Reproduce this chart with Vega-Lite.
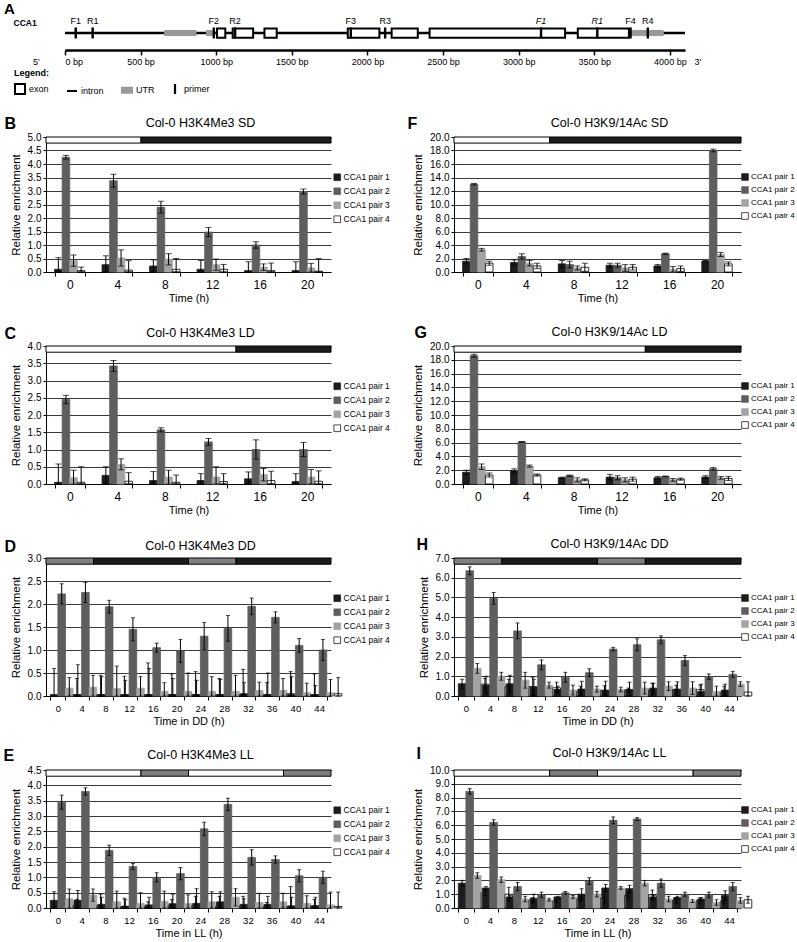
{
"$schema":"https://vega.github.io/schema/vega-lite/v6.json",
"background":"white",
"padding":{"left":3,"top":2,"right":0,"bottom":0},
"config":{
 "font":"Liberation Sans",
 "view":{"stroke":null},
 "axis":{"labelColor":"#000","titleColor":"#000","domainColor":"#000","tickColor":"#000","titleFontWeight":"normal","gridColor":"#3a3a3a"},
 "axisY":{"labelFontSize":10,"titleFontSize":11.5,"tickSize":3,"labelPadding":2,"titlePadding":6},
 "legend":{"labelColor":"#000000","labelFontSize":8.5},
 "title":{"fontSize":12.5,"fontWeight":"normal","color":"#000","baseline":"alphabetic","offset":0,"dy":18.5,"dx":12}
},
"resolve":{"scale":{"fill":"independent","stroke":"independent","shape":"independent"}},
"datasets":{
 "gene":[
  {"feature":"intron","start":0,"end":4100},
  {"feature":"UTR","start":659,"end":866},
  {"feature":"UTR","start":935,"end":990},
  {"feature":"exon","start":1005,"end":1060},
  {"feature":"exon","start":1109,"end":1244},
  {"feature":"exon","start":1319,"end":1400},
  {"feature":"exon","start":1870,"end":2079},
  {"feature":"exon","start":2160,"end":2333},
  {"feature":"exon","start":2411,"end":3307},
  {"feature":"exon","start":3391,"end":3729},
  {"feature":"UTR","start":3736,"end":3956}
 ],
 "primers":[
  {"feature":"primer","label":"F1","bp":71,"set":"ChIP"},
  {"feature":"primer","label":"R1","bp":183,"set":"ChIP"},
  {"feature":"primer","label":"F2","bp":984,"set":"ChIP"},
  {"feature":"primer","label":"R2","bp":1125,"set":"ChIP"},
  {"feature":"primer","label":"F3","bp":1890,"set":"ChIP"},
  {"feature":"primer","label":"R3","bp":2117,"set":"ChIP"},
  {"feature":"primer","label":"F1","bp":3148,"set":"RT"},
  {"feature":"primer","label":"R1","bp":3520,"set":"RT"},
  {"feature":"primer","label":"F4","bp":3740,"set":"ChIP"},
  {"feature":"primer","label":"R4","bp":3854,"set":"ChIP"}
 ],
 "ends":[{"label":"5'","bp":-190},{"label":"3'","bp":4185}],
 "bandSD":[{"s":-2,"e":6,"c":"light"},{"s":6,"e":22,"c":"dark"}],
 "bandLD":[{"s":-2,"e":14,"c":"light"},{"s":14,"e":22,"c":"dark"}],
 "bandDD":[{"s":-2,"e":6,"c":"subjective day"},{"s":6,"e":22,"c":"subjective night"},{"s":22,"e":30,"c":"subjective day"},{"s":30,"e":46,"c":"subjective night"}],
 "bandLL":[{"s":-2,"e":14,"c":"subjective day"},{"s":14,"e":22,"c":"subjective night"},{"s":22,"e":38,"c":"subjective day"},{"s":38,"e":46,"c":"subjective night"}],
 "B":[
  {"t":0,"p":"CCA1 pair 1","v":0.10,"e":0.43},{"t":0,"p":"CCA1 pair 2","v":4.25,"e":0.07},{"t":0,"p":"CCA1 pair 3","v":0.42,"e":0.21},{"t":0,"p":"CCA1 pair 4","v":0.05,"e":0.13},
  {"t":4,"p":"CCA1 pair 1","v":0.27,"e":0.33},{"t":4,"p":"CCA1 pair 2","v":3.38,"e":0.24},{"t":4,"p":"CCA1 pair 3","v":0.52,"e":0.30},{"t":4,"p":"CCA1 pair 4","v":0.07,"e":0.35},
  {"t":8,"p":"CCA1 pair 1","v":0.22,"e":0.23},{"t":8,"p":"CCA1 pair 2","v":2.40,"e":0.22},{"t":8,"p":"CCA1 pair 3","v":0.47,"e":0.21},{"t":8,"p":"CCA1 pair 4","v":0.10,"e":0.40},
  {"t":12,"p":"CCA1 pair 1","v":0.10,"e":0.33},{"t":12,"p":"CCA1 pair 2","v":1.48,"e":0.17},{"t":12,"p":"CCA1 pair 3","v":0.27,"e":0.21},{"t":12,"p":"CCA1 pair 4","v":0.10,"e":0.18},
  {"t":16,"p":"CCA1 pair 1","v":0.05,"e":0.33},{"t":16,"p":"CCA1 pair 2","v":1.00,"e":0.12},{"t":16,"p":"CCA1 pair 3","v":0.18,"e":0.12},{"t":16,"p":"CCA1 pair 4","v":0.05,"e":0.28},
  {"t":20,"p":"CCA1 pair 1","v":0.05,"e":0.33},{"t":20,"p":"CCA1 pair 2","v":2.98,"e":0.09},{"t":20,"p":"CCA1 pair 3","v":0.15,"e":0.17},{"t":20,"p":"CCA1 pair 4","v":0.03,"e":0.47}
 ],
 "F":[
  {"t":0,"p":"CCA1 pair 1","v":1.6,"e":0.4},{"t":0,"p":"CCA1 pair 2","v":13.0,"e":0.1},{"t":0,"p":"CCA1 pair 3","v":3.3,"e":0.2},{"t":0,"p":"CCA1 pair 4","v":1.3,"e":0.3},
  {"t":4,"p":"CCA1 pair 1","v":1.4,"e":0.4},{"t":4,"p":"CCA1 pair 2","v":2.3,"e":0.4},{"t":4,"p":"CCA1 pair 3","v":1.3,"e":0.4},{"t":4,"p":"CCA1 pair 4","v":0.9,"e":0.4},
  {"t":8,"p":"CCA1 pair 1","v":1.2,"e":0.5},{"t":8,"p":"CCA1 pair 2","v":1.1,"e":0.5},{"t":8,"p":"CCA1 pair 3","v":0.6,"e":0.3},{"t":8,"p":"CCA1 pair 4","v":0.7,"e":0.6},
  {"t":12,"p":"CCA1 pair 1","v":1.0,"e":0.3},{"t":12,"p":"CCA1 pair 2","v":1.0,"e":0.3},{"t":12,"p":"CCA1 pair 3","v":0.6,"e":0.5},{"t":12,"p":"CCA1 pair 4","v":0.7,"e":0.4},
  {"t":16,"p":"CCA1 pair 1","v":0.9,"e":0.2},{"t":16,"p":"CCA1 pair 2","v":2.7,"e":0.1},{"t":16,"p":"CCA1 pair 3","v":0.4,"e":0.4},{"t":16,"p":"CCA1 pair 4","v":0.5,"e":0.4},
  {"t":20,"p":"CCA1 pair 1","v":1.6,"e":0.1},{"t":20,"p":"CCA1 pair 2","v":18.0,"e":0.2},{"t":20,"p":"CCA1 pair 3","v":2.6,"e":0.3},{"t":20,"p":"CCA1 pair 4","v":1.2,"e":0.3}
 ],
 "C":[
  {"t":0,"p":"CCA1 pair 1","v":0.05,"e":0.53},{"t":0,"p":"CCA1 pair 2","v":2.45,"e":0.12},{"t":0,"p":"CCA1 pair 3","v":0.18,"e":0.22},{"t":0,"p":"CCA1 pair 4","v":0.05,"e":0.45},
  {"t":4,"p":"CCA1 pair 1","v":0.25,"e":0.25},{"t":4,"p":"CCA1 pair 2","v":3.42,"e":0.16},{"t":4,"p":"CCA1 pair 3","v":0.57,"e":0.16},{"t":4,"p":"CCA1 pair 4","v":0.08,"e":0.25},
  {"t":8,"p":"CCA1 pair 1","v":0.10,"e":0.26},{"t":8,"p":"CCA1 pair 2","v":1.57,"e":0.06},{"t":8,"p":"CCA1 pair 3","v":0.20,"e":0.20},{"t":8,"p":"CCA1 pair 4","v":0.05,"e":0.21},
  {"t":12,"p":"CCA1 pair 1","v":0.10,"e":0.20},{"t":12,"p":"CCA1 pair 2","v":1.22,"e":0.10},{"t":12,"p":"CCA1 pair 3","v":0.20,"e":0.30},{"t":12,"p":"CCA1 pair 4","v":0.07,"e":0.23},
  {"t":16,"p":"CCA1 pair 1","v":0.15,"e":0.20},{"t":16,"p":"CCA1 pair 2","v":1.00,"e":0.28},{"t":16,"p":"CCA1 pair 3","v":0.27,"e":0.18},{"t":16,"p":"CCA1 pair 4","v":0.10,"e":0.27},
  {"t":20,"p":"CCA1 pair 1","v":0.07,"e":0.23},{"t":20,"p":"CCA1 pair 2","v":1.00,"e":0.20},{"t":20,"p":"CCA1 pair 3","v":0.20,"e":0.22},{"t":20,"p":"CCA1 pair 4","v":0.08,"e":0.30}
 ],
 "G":[
  {"t":0,"p":"CCA1 pair 1","v":1.7,"e":0.3},{"t":0,"p":"CCA1 pair 2","v":18.6,"e":0.2},{"t":0,"p":"CCA1 pair 3","v":2.5,"e":0.4},{"t":0,"p":"CCA1 pair 4","v":1.3,"e":0.3},
  {"t":4,"p":"CCA1 pair 1","v":1.9,"e":0.3},{"t":4,"p":"CCA1 pair 2","v":6.1,"e":0.05},{"t":4,"p":"CCA1 pair 3","v":2.6,"e":0.15},{"t":4,"p":"CCA1 pair 4","v":1.3,"e":0.15},
  {"t":8,"p":"CCA1 pair 1","v":0.9,"e":0.1},{"t":8,"p":"CCA1 pair 2","v":1.2,"e":0.1},{"t":8,"p":"CCA1 pair 3","v":0.6,"e":0.3},{"t":8,"p":"CCA1 pair 4","v":0.6,"e":0.15},
  {"t":12,"p":"CCA1 pair 1","v":1.0,"e":0.4},{"t":12,"p":"CCA1 pair 2","v":0.9,"e":0.3},{"t":12,"p":"CCA1 pair 3","v":0.6,"e":0.3},{"t":12,"p":"CCA1 pair 4","v":0.7,"e":0.3},
  {"t":16,"p":"CCA1 pair 1","v":0.9,"e":0.2},{"t":16,"p":"CCA1 pair 2","v":1.1,"e":0.05},{"t":16,"p":"CCA1 pair 3","v":0.6,"e":0.2},{"t":16,"p":"CCA1 pair 4","v":0.7,"e":0.15},
  {"t":20,"p":"CCA1 pair 1","v":1.0,"e":0.2},{"t":20,"p":"CCA1 pair 2","v":2.2,"e":0.2},{"t":20,"p":"CCA1 pair 3","v":0.9,"e":0.2},{"t":20,"p":"CCA1 pair 4","v":0.8,"e":0.3}
 ],
 "D":[
  {"t":0,"p":"CCA1 pair 1","v":0.03,"e":0.57},{"t":0,"p":"CCA1 pair 2","v":2.22,"e":0.22},{"t":0,"p":"CCA1 pair 3","v":0.17,"e":0.23},{"t":0,"p":"CCA1 pair 4","v":0.03,"e":0.35},
  {"t":4,"p":"CCA1 pair 1","v":0.03,"e":0.65},{"t":4,"p":"CCA1 pair 2","v":2.25,"e":0.22},{"t":4,"p":"CCA1 pair 3","v":0.19,"e":0.26},{"t":4,"p":"CCA1 pair 4","v":0.03,"e":0.42},
  {"t":8,"p":"CCA1 pair 1","v":0.03,"e":0.39},{"t":8,"p":"CCA1 pair 2","v":1.94,"e":0.14},{"t":8,"p":"CCA1 pair 3","v":0.16,"e":0.49},{"t":8,"p":"CCA1 pair 4","v":0.03,"e":0.40},
  {"t":12,"p":"CCA1 pair 1","v":0.03,"e":0.31},{"t":12,"p":"CCA1 pair 2","v":1.45,"e":0.25},{"t":12,"p":"CCA1 pair 3","v":0.17,"e":0.25},{"t":12,"p":"CCA1 pair 4","v":0.03,"e":0.69},
  {"t":16,"p":"CCA1 pair 1","v":0.03,"e":0.57},{"t":16,"p":"CCA1 pair 2","v":1.05,"e":0.10},{"t":16,"p":"CCA1 pair 3","v":0.10,"e":0.19},{"t":16,"p":"CCA1 pair 4","v":0.03,"e":0.45},
  {"t":20,"p":"CCA1 pair 1","v":0.03,"e":0.35},{"t":20,"p":"CCA1 pair 2","v":0.98,"e":0.25},{"t":20,"p":"CCA1 pair 3","v":0.10,"e":0.40},{"t":20,"p":"CCA1 pair 4","v":0.03,"e":0.50},
  {"t":24,"p":"CCA1 pair 1","v":0.03,"e":0.31},{"t":24,"p":"CCA1 pair 2","v":1.30,"e":0.30},{"t":24,"p":"CCA1 pair 3","v":0.10,"e":0.32},{"t":24,"p":"CCA1 pair 4","v":0.03,"e":0.35},
  {"t":28,"p":"CCA1 pair 1","v":0.03,"e":0.33},{"t":28,"p":"CCA1 pair 2","v":1.47,"e":0.28},{"t":28,"p":"CCA1 pair 3","v":0.10,"e":0.35},{"t":28,"p":"CCA1 pair 4","v":0.03,"e":0.55},
  {"t":32,"p":"CCA1 pair 1","v":0.05,"e":0.24},{"t":32,"p":"CCA1 pair 2","v":1.95,"e":0.18},{"t":32,"p":"CCA1 pair 3","v":0.12,"e":0.18},{"t":32,"p":"CCA1 pair 4","v":0.03,"e":0.26},
  {"t":36,"p":"CCA1 pair 1","v":0.03,"e":0.47},{"t":36,"p":"CCA1 pair 2","v":1.71,"e":0.12},{"t":36,"p":"CCA1 pair 3","v":0.12,"e":0.26},{"t":36,"p":"CCA1 pair 4","v":0.05,"e":0.48},
  {"t":40,"p":"CCA1 pair 1","v":0.03,"e":0.39},{"t":40,"p":"CCA1 pair 2","v":1.10,"e":0.15},{"t":40,"p":"CCA1 pair 3","v":0.07,"e":0.21},{"t":40,"p":"CCA1 pair 4","v":0.03,"e":0.45},
  {"t":44,"p":"CCA1 pair 1","v":0.03,"e":0.20},{"t":44,"p":"CCA1 pair 2","v":1.00,"e":0.23},{"t":44,"p":"CCA1 pair 3","v":0.07,"e":0.29},{"t":44,"p":"CCA1 pair 4","v":0.05,"e":0.35}
 ],
 "H":[
  {"t":0,"p":"CCA1 pair 1","v":0.62,"e":0.23},{"t":0,"p":"CCA1 pair 2","v":6.35,"e":0.20},{"t":0,"p":"CCA1 pair 3","v":1.40,"e":0.25},{"t":0,"p":"CCA1 pair 4","v":0.60,"e":0.30},
  {"t":4,"p":"CCA1 pair 1","v":0.55,"e":0.45},{"t":4,"p":"CCA1 pair 2","v":4.95,"e":0.30},{"t":4,"p":"CCA1 pair 3","v":1.00,"e":0.20},{"t":4,"p":"CCA1 pair 4","v":0.48,"e":0.37},
  {"t":8,"p":"CCA1 pair 1","v":0.62,"e":0.43},{"t":8,"p":"CCA1 pair 2","v":3.30,"e":0.40},{"t":8,"p":"CCA1 pair 3","v":0.80,"e":0.40},{"t":8,"p":"CCA1 pair 4","v":0.48,"e":0.47},
  {"t":12,"p":"CCA1 pair 1","v":0.45,"e":0.40},{"t":12,"p":"CCA1 pair 2","v":1.58,"e":0.25},{"t":12,"p":"CCA1 pair 3","v":0.55,"e":0.15},{"t":12,"p":"CCA1 pair 4","v":0.42,"e":0.28},
  {"t":16,"p":"CCA1 pair 1","v":0.33,"e":0.17},{"t":16,"p":"CCA1 pair 2","v":0.95,"e":0.25},{"t":16,"p":"CCA1 pair 3","v":0.30,"e":0.25},{"t":16,"p":"CCA1 pair 4","v":0.23,"e":0.27},
  {"t":20,"p":"CCA1 pair 1","v":0.35,"e":0.40},{"t":20,"p":"CCA1 pair 2","v":1.18,"e":0.20},{"t":20,"p":"CCA1 pair 3","v":0.35,"e":0.15},{"t":20,"p":"CCA1 pair 4","v":0.28,"e":0.24},
  {"t":24,"p":"CCA1 pair 1","v":0.30,"e":0.45},{"t":24,"p":"CCA1 pair 2","v":2.38,"e":0.09},{"t":24,"p":"CCA1 pair 3","v":0.33,"e":0.12},{"t":24,"p":"CCA1 pair 4","v":0.30,"e":0.10},
  {"t":28,"p":"CCA1 pair 1","v":0.33,"e":0.37},{"t":28,"p":"CCA1 pair 2","v":2.60,"e":0.30},{"t":28,"p":"CCA1 pair 3","v":0.40,"e":0.30},{"t":28,"p":"CCA1 pair 4","v":0.30,"e":0.35},
  {"t":32,"p":"CCA1 pair 1","v":0.40,"e":0.25},{"t":32,"p":"CCA1 pair 2","v":2.85,"e":0.20},{"t":32,"p":"CCA1 pair 3","v":0.50,"e":0.22},{"t":32,"p":"CCA1 pair 4","v":0.33,"e":0.22},
  {"t":36,"p":"CCA1 pair 1","v":0.35,"e":0.37},{"t":36,"p":"CCA1 pair 2","v":1.80,"e":0.25},{"t":36,"p":"CCA1 pair 3","v":0.40,"e":0.32},{"t":36,"p":"CCA1 pair 4","v":0.32,"e":0.23},
  {"t":40,"p":"CCA1 pair 1","v":0.22,"e":0.38},{"t":40,"p":"CCA1 pair 2","v":0.98,"e":0.14},{"t":40,"p":"CCA1 pair 3","v":0.22,"e":0.28},{"t":40,"p":"CCA1 pair 4","v":0.20,"e":0.30},
  {"t":44,"p":"CCA1 pair 1","v":0.30,"e":0.30},{"t":44,"p":"CCA1 pair 2","v":1.10,"e":0.15},{"t":44,"p":"CCA1 pair 3","v":0.60,"e":0.12},{"t":44,"p":"CCA1 pair 4","v":0.20,"e":0.52}
 ],
 "E":[
  {"t":0,"p":"CCA1 pair 1","v":0.25,"e":0.28},{"t":0,"p":"CCA1 pair 2","v":3.45,"e":0.23},{"t":0,"p":"CCA1 pair 3","v":0.30,"e":0.32},{"t":0,"p":"CCA1 pair 4","v":0.08,"e":0.20},
  {"t":4,"p":"CCA1 pair 1","v":0.25,"e":0.32},{"t":4,"p":"CCA1 pair 2","v":3.80,"e":0.12},{"t":4,"p":"CCA1 pair 3","v":0.42,"e":0.20},{"t":4,"p":"CCA1 pair 4","v":0.08,"e":0.37},
  {"t":8,"p":"CCA1 pair 1","v":0.12,"e":0.23},{"t":8,"p":"CCA1 pair 2","v":1.88,"e":0.17},{"t":8,"p":"CCA1 pair 3","v":0.20,"e":0.35},{"t":8,"p":"CCA1 pair 4","v":0.04,"e":0.28},
  {"t":12,"p":"CCA1 pair 1","v":0.06,"e":0.21},{"t":12,"p":"CCA1 pair 2","v":1.35,"e":0.10},{"t":12,"p":"CCA1 pair 3","v":0.15,"e":0.35},{"t":12,"p":"CCA1 pair 4","v":0.04,"e":0.16},
  {"t":16,"p":"CCA1 pair 1","v":0.10,"e":0.25},{"t":16,"p":"CCA1 pair 2","v":1.00,"e":0.15},{"t":16,"p":"CCA1 pair 3","v":0.22,"e":0.33},{"t":16,"p":"CCA1 pair 4","v":0.07,"e":0.21},
  {"t":20,"p":"CCA1 pair 1","v":0.14,"e":0.31},{"t":20,"p":"CCA1 pair 2","v":1.12,"e":0.20},{"t":20,"p":"CCA1 pair 3","v":0.14,"e":0.29},{"t":20,"p":"CCA1 pair 4","v":0.08,"e":0.30},
  {"t":24,"p":"CCA1 pair 1","v":0.15,"e":0.48},{"t":24,"p":"CCA1 pair 2","v":2.58,"e":0.22},{"t":24,"p":"CCA1 pair 3","v":0.20,"e":0.33},{"t":24,"p":"CCA1 pair 4","v":0.05,"e":0.33},
  {"t":28,"p":"CCA1 pair 1","v":0.20,"e":0.33},{"t":28,"p":"CCA1 pair 2","v":3.38,"e":0.20},{"t":28,"p":"CCA1 pair 3","v":0.35,"e":0.28},{"t":28,"p":"CCA1 pair 4","v":0.07,"e":0.31},
  {"t":32,"p":"CCA1 pair 1","v":0.12,"e":0.18},{"t":32,"p":"CCA1 pair 2","v":1.65,"e":0.25},{"t":32,"p":"CCA1 pair 3","v":0.18,"e":0.30},{"t":32,"p":"CCA1 pair 4","v":0.04,"e":0.14},
  {"t":36,"p":"CCA1 pair 1","v":0.12,"e":0.26},{"t":36,"p":"CCA1 pair 2","v":1.58,"e":0.12},{"t":36,"p":"CCA1 pair 3","v":0.20,"e":0.28},{"t":36,"p":"CCA1 pair 4","v":0.05,"e":0.65},
  {"t":40,"p":"CCA1 pair 1","v":0.07,"e":0.28},{"t":40,"p":"CCA1 pair 2","v":1.05,"e":0.20},{"t":40,"p":"CCA1 pair 3","v":0.15,"e":0.25},{"t":40,"p":"CCA1 pair 4","v":0.07,"e":0.21},
  {"t":44,"p":"CCA1 pair 1","v":0.07,"e":0.28},{"t":44,"p":"CCA1 pair 2","v":1.00,"e":0.20},{"t":44,"p":"CCA1 pair 3","v":0.10,"e":0.42},{"t":44,"p":"CCA1 pair 4","v":0.05,"e":0.47}
 ],
 "I":[
  {"t":0,"p":"CCA1 pair 1","v":1.8,"e":0.2},{"t":0,"p":"CCA1 pair 2","v":8.45,"e":0.2},{"t":0,"p":"CCA1 pair 3","v":2.35,"e":0.2},{"t":0,"p":"CCA1 pair 4","v":1.1,"e":0.2},
  {"t":4,"p":"CCA1 pair 1","v":1.45,"e":0.1},{"t":4,"p":"CCA1 pair 2","v":6.2,"e":0.2},{"t":4,"p":"CCA1 pair 3","v":2.05,"e":0.2},{"t":4,"p":"CCA1 pair 4","v":1.0,"e":0.5},
  {"t":8,"p":"CCA1 pair 1","v":0.8,"e":0.1},{"t":8,"p":"CCA1 pair 2","v":1.55,"e":0.3},{"t":8,"p":"CCA1 pair 3","v":0.65,"e":0.2},{"t":8,"p":"CCA1 pair 4","v":0.55,"e":0.2},
  {"t":12,"p":"CCA1 pair 1","v":0.7,"e":0.3},{"t":12,"p":"CCA1 pair 2","v":0.95,"e":0.2},{"t":12,"p":"CCA1 pair 3","v":0.6,"e":0.1},{"t":12,"p":"CCA1 pair 4","v":0.5,"e":0.1},
  {"t":16,"p":"CCA1 pair 1","v":0.8,"e":0.05},{"t":16,"p":"CCA1 pair 2","v":1.1,"e":0.1},{"t":16,"p":"CCA1 pair 3","v":0.8,"e":0.1},{"t":16,"p":"CCA1 pair 4","v":0.65,"e":0.15},
  {"t":20,"p":"CCA1 pair 1","v":1.0,"e":0.4},{"t":20,"p":"CCA1 pair 2","v":1.95,"e":0.25},{"t":20,"p":"CCA1 pair 3","v":1.0,"e":0.2},{"t":20,"p":"CCA1 pair 4","v":0.75,"e":0.45},
  {"t":24,"p":"CCA1 pair 1","v":1.45,"e":0.25},{"t":24,"p":"CCA1 pair 2","v":6.35,"e":0.25},{"t":24,"p":"CCA1 pair 3","v":1.45,"e":0.1},{"t":24,"p":"CCA1 pair 4","v":0.9,"e":0.2},
  {"t":28,"p":"CCA1 pair 1","v":1.4,"e":0.25},{"t":28,"p":"CCA1 pair 2","v":6.45,"e":0.1},{"t":28,"p":"CCA1 pair 3","v":1.8,"e":0.2},{"t":28,"p":"CCA1 pair 4","v":0.95,"e":0.35},
  {"t":32,"p":"CCA1 pair 1","v":0.8,"e":0.15},{"t":32,"p":"CCA1 pair 2","v":1.8,"e":0.3},{"t":32,"p":"CCA1 pair 3","v":0.65,"e":0.2},{"t":32,"p":"CCA1 pair 4","v":0.55,"e":0.2},
  {"t":36,"p":"CCA1 pair 1","v":0.75,"e":0.1},{"t":36,"p":"CCA1 pair 2","v":1.0,"e":0.15},{"t":36,"p":"CCA1 pair 3","v":0.5,"e":0.1},{"t":36,"p":"CCA1 pair 4","v":0.55,"e":0.2},
  {"t":40,"p":"CCA1 pair 1","v":0.65,"e":0.1},{"t":40,"p":"CCA1 pair 2","v":0.95,"e":0.2},{"t":40,"p":"CCA1 pair 3","v":0.4,"e":0.2},{"t":40,"p":"CCA1 pair 4","v":0.5,"e":0.15},
  {"t":44,"p":"CCA1 pair 1","v":0.9,"e":0.35},{"t":44,"p":"CCA1 pair 2","v":1.55,"e":0.3},{"t":44,"p":"CCA1 pair 3","v":0.55,"e":0.2},{"t":44,"p":"CCA1 pair 4","v":0.6,"e":0.25}
 ]
},
"vconcat":[
 {
  "width":650,"height":30,
  "title":{"text":"A","anchor":"start","frame":"bounds","fontSize":15,"fontWeight":"bold","dx":-9,"dy":0,"offset":-15,"baseline":"bottom"},
  "layer":[
   {"data":{"name":"gene"},"transform":[{"filter":"datum.feature == 'intron'"}],
    "mark":{"type":"rule","strokeWidth":2.5},
    "encoding":{
     "x":{"field":"start","type":"quantitative","title":null,"scale":{"domain":[0,4100],"range":[19,639],"nice":false,"zero":false},
          "axis":{"orient":"bottom","title":null,"values":[0,500,1000,1500,2000,2500,3000,3500,4000],"labelExpr":"datum.value + ' bp'","domainWidth":2.5,"tickWidth":1.5,"tickSize":5,"labelFontSize":9,"labelPadding":2,"grid":false}},
     "x2":{"field":"end"},
     "y":{"datum":0.567,"type":"quantitative","title":"CCA1","scale":{"domain":[0,1],"nice":false},
          "axis":{"title":"CCA1","domain":false,"ticks":false,"labels":false,"grid":false,"titleAngle":0,"titleX":-33,"titleY":2,"titleAlign":"left","titleBaseline":"middle","titleFontSize":8.5,"titleFontWeight":"bold"}},
     "stroke":{"field":"feature","type":"nominal","scale":{"domain":["exon","intron","UTR","primer"],"range":["#000000","#000000","#999999","transparent"]}}
    }},
   {"data":{"name":"gene"},"transform":[{"filter":"datum.feature == 'UTR'"}],
    "mark":{"type":"rect","strokeWidth":1},
    "encoding":{
     "x":{"field":"start","type":"quantitative","title":null},"x2":{"field":"end"},
     "y":{"datum":0.65,"type":"quantitative","title":"CCA1"},"y2":{"datum":0.48},
     "fill":{"field":"feature","type":"nominal","scale":{"domain":["exon","intron","UTR","primer"],"range":["#ffffff","#000000","#999999","#000000"]}},
     "stroke":{"field":"feature","type":"nominal"}
    }},
   {"data":{"name":"gene"},"transform":[{"filter":"datum.feature == 'exon'"}],
    "mark":{"type":"rect","strokeWidth":2},
    "encoding":{
     "x":{"field":"start","type":"quantitative","title":null},"x2":{"field":"end"},
     "y":{"datum":0.72,"type":"quantitative","title":"CCA1"},"y2":{"datum":0.41},
     "fill":{"field":"feature","type":"nominal"},
     "stroke":{"field":"feature","type":"nominal"}
    }},
   {"data":{"name":"primers"},
    "mark":{"type":"point","filled":true,"opacity":1,"size":121},
    "encoding":{
     "x":{"field":"bp","type":"quantitative","title":null},
     "y":{"datum":0.567,"type":"quantitative","title":"CCA1"},
     "shape":{"field":"feature","type":"nominal","scale":{"domain":["exon","intron","UTR","primer"],"range":["square","stroke","M-1,-0.5H1V0.5H-1Z","M-0.22,-1H0.22V1H-0.22Z"]},
       "legend":{"title":"Legend:","orient":"none","legendX":-32,"legendY":49,"direction":"horizontal","titleFontSize":9,"titleFontWeight":"bold","titleColor":"#000","labelFontSize":9,"symbolSize":100,"symbolStrokeWidth":2,"columnPadding":14,"titlePadding":5,"labelOffset":3}},
     "fill":{"field":"feature","type":"nominal",
       "legend":{"title":"Legend:","orient":"none","legendX":-32,"legendY":49,"direction":"horizontal","titleFontSize":9,"titleFontWeight":"bold","titleColor":"#000","labelFontSize":9,"symbolSize":100,"symbolStrokeWidth":2,"columnPadding":14,"titlePadding":5,"labelOffset":3}},
     "stroke":{"field":"feature","type":"nominal",
       "legend":{"title":"Legend:","orient":"none","legendX":-32,"legendY":49,"direction":"horizontal","titleFontSize":9,"titleFontWeight":"bold","titleColor":"#000","labelFontSize":9,"symbolSize":100,"symbolStrokeWidth":2,"columnPadding":14,"titlePadding":5,"labelOffset":3}}
    }},
   {"data":{"name":"primers"},"transform":[{"filter":"datum.set == 'ChIP'"}],
    "mark":{"type":"text","fontSize":9,"color":"#000","baseline":"middle"},
    "encoding":{"x":{"field":"bp","type":"quantitative","title":null},"y":{"datum":0.96,"type":"quantitative","title":"CCA1"},"text":{"field":"label"}}},
   {"data":{"name":"primers"},"transform":[{"filter":"datum.set == 'RT'"}],
    "mark":{"type":"text","fontSize":9,"fontStyle":"italic","color":"#000","baseline":"middle"},
    "encoding":{"x":{"field":"bp","type":"quantitative","title":null},"y":{"datum":0.96,"type":"quantitative","title":"CCA1"},"text":{"field":"label"}}},
   {"data":{"name":"ends"},
    "mark":{"type":"text","fontSize":9,"color":"#000","baseline":"middle"},
    "encoding":{"x":{"field":"bp","type":"quantitative","title":null},"y":{"datum":-0.4,"type":"quantitative","title":"CCA1"},"text":{"field":"label"}}}
  ]
 },
 {
  "columns":2,"spacing":{"row":74,"column":123},"bounds":"flush","align":"each",
  "resolve":{"scale":{"fill":"independent","stroke":"independent","shape":"independent"}},
  "concat":[
    {"width":285,"height":135,"title":{"text":"Col-0 H3K4Me3 SD"},
     "resolve":{"scale":{"x":"independent","y":"independent","fill":"independent","stroke":"independent"}},
     "layer":[
      {"data":{"name":"bandSD"},"mark":{"type":"rect","stroke":"#000","strokeWidth":1},
        "encoding":{"x":{"field":"s","type":"quantitative","title":"B","scale":{"domain":[-2,22],"nice":false,"zero":false},"axis":{"orient":"top","title":"B","titleX":-42,"titleY":-9,"titleAlign":"left","titleBaseline":"alphabetic","titleFontSize":16,"titleFontWeight":"bold","labels":false,"ticks":false,"domain":false,"grid":false}},
         "x2":{"field":"e"},"y":{"datum":1,"type":"quantitative","scale":{"domain":[0,1],"nice":false},"axis":null},"y2":{"datum":0.955},
         "fill":{"field":"c","type":"nominal","scale":{"domain":["light","dark"],"range":["#ffffff","#1c1c1c"]},"legend":null}}},
      {"data":{"name":"B"},"layer":[
       {"mark":{"type":"bar","strokeWidth":0.8},
        "encoding":{
         "x":{"field":"t","type":"ordinal","title":"Time (h)","scale":{"paddingInner":0.36,"paddingOuter":0.18},"axis":{"title":"Time (h)","labelAngle":0,"tickBand":"extent","labelFontSize":12,"titleFontSize":11,"tickSize":4,"labelPadding":3,"titlePadding":2}},
         "xOffset":{"field":"p","type":"nominal","scale":{"paddingInner":0,"paddingOuter":0}},
         "y":{"field":"v","type":"quantitative","title":"Relative enrichment","scale":{"domain":[0,5],"nice":false,"clamp":true},"axis":{"title":"Relative enrichment","orient":"left","values":[0,0.5,1,1.5,2,2.5,3,3.5,4,4.5,5],"format":".1f","grid":true}},
         "fill":{"field":"p","type":"nominal","scale":{"domain":["CCA1 pair 1","CCA1 pair 2","CCA1 pair 3","CCA1 pair 4"],"range":["#1c1c1c","#5e5e5e","#a3a3a3","#ffffff"]},"legend":{"title":null,"orient":"none","legendX":287,"legendY":36,"symbolType":"square","symbolSize":45,"symbolStrokeWidth":0.7,"symbolStrokeColor":"#000","labelFontSize":8.5,"labelColor":"#000000","rowPadding":3,"labelOffset":2}},
         "stroke":{"field":"p","type":"nominal","scale":{"domain":["CCA1 pair 1","CCA1 pair 2","CCA1 pair 3","CCA1 pair 4"],"range":["#1c1c1c","#5e5e5e","#a3a3a3","#000000"]},"legend":null}}},
       {"mark":{"type":"errorbar","ticks":true,"size":6,"thickness":1,"color":"#000"},
        "encoding":{"x":{"field":"t","type":"ordinal","title":"Time (h)","scale":{"paddingInner":0.36,"paddingOuter":0.18},"axis":{"title":"Time (h)","labelAngle":0,"tickBand":"extent","labelFontSize":12,"titleFontSize":11,"tickSize":4,"labelPadding":3,"titlePadding":2}},"xOffset":{"field":"p","type":"nominal"},
         "y":{"field":"v","type":"quantitative","title":"Relative enrichment","axis":{"title":"Relative enrichment","orient":"left","values":[0,0.5,1,1.5,2,2.5,3,3.5,4,4.5,5],"format":".1f","grid":true}},"yError":{"field":"e"}}}
      ]}
     ]},
    {"width":287,"height":135,"title":{"text":"Col-0 H3K9/14Ac SD"},
     "resolve":{"scale":{"x":"independent","y":"independent","fill":"independent","stroke":"independent"}},
     "layer":[
      {"data":{"name":"bandSD"},"mark":{"type":"rect","stroke":"#000","strokeWidth":1},
        "encoding":{"x":{"field":"s","type":"quantitative","title":"F","scale":{"domain":[-2,22],"nice":false,"zero":false},"axis":{"orient":"top","title":"F","titleX":-47,"titleY":-9,"titleAlign":"left","titleBaseline":"alphabetic","titleFontSize":16,"titleFontWeight":"bold","labels":false,"ticks":false,"domain":false,"grid":false}},
         "x2":{"field":"e"},"y":{"datum":1,"type":"quantitative","scale":{"domain":[0,1],"nice":false},"axis":null},"y2":{"datum":0.955},
         "fill":{"field":"c","type":"nominal","scale":{"domain":["light","dark"],"range":["#ffffff","#1c1c1c"]},"legend":null}}},
      {"data":{"name":"F"},"layer":[
       {"mark":{"type":"bar","strokeWidth":0.8},
        "encoding":{
         "x":{"field":"t","type":"ordinal","title":"Time (h)","scale":{"paddingInner":0.36,"paddingOuter":0.18},"axis":{"title":"Time (h)","labelAngle":0,"tickBand":"extent","labelFontSize":12,"titleFontSize":11,"tickSize":4,"labelPadding":3,"titlePadding":2}},
         "xOffset":{"field":"p","type":"nominal","scale":{"paddingInner":0,"paddingOuter":0}},
         "y":{"field":"v","type":"quantitative","title":"Relative enrichment","scale":{"domain":[0,20],"nice":false,"clamp":true},"axis":{"title":"Relative enrichment","orient":"left","values":[0,2,4,6,8,10,12,14,16,18,20],"format":".1f","grid":true}},
         "fill":{"field":"p","type":"nominal","scale":{"domain":["CCA1 pair 1","CCA1 pair 2","CCA1 pair 3","CCA1 pair 4"],"range":["#1c1c1c","#5e5e5e","#a3a3a3","#ffffff"]},"legend":{"title":null,"orient":"none","legendX":287,"legendY":36,"symbolType":"square","symbolSize":45,"symbolStrokeWidth":0.7,"symbolStrokeColor":"#000","labelFontSize":8,"labelColor":"#000000","rowPadding":3,"labelOffset":2}},
         "stroke":{"field":"p","type":"nominal","scale":{"domain":["CCA1 pair 1","CCA1 pair 2","CCA1 pair 3","CCA1 pair 4"],"range":["#1c1c1c","#5e5e5e","#a3a3a3","#000000"]},"legend":null}}},
       {"mark":{"type":"errorbar","ticks":true,"size":6,"thickness":1,"color":"#000"},
        "encoding":{"x":{"field":"t","type":"ordinal","title":"Time (h)","scale":{"paddingInner":0.36,"paddingOuter":0.18},"axis":{"title":"Time (h)","labelAngle":0,"tickBand":"extent","labelFontSize":12,"titleFontSize":11,"tickSize":4,"labelPadding":3,"titlePadding":2}},"xOffset":{"field":"p","type":"nominal"},
         "y":{"field":"v","type":"quantitative","title":"Relative enrichment","axis":{"title":"Relative enrichment","orient":"left","values":[0,2,4,6,8,10,12,14,16,18,20],"format":".1f","grid":true}},"yError":{"field":"e"}}}
      ]}
     ]},
    {"width":285,"height":138,"title":{"text":"Col-0 H3K4Me3 LD"},
     "resolve":{"scale":{"x":"independent","y":"independent","fill":"independent","stroke":"independent"}},
     "layer":[
      {"data":{"name":"bandLD"},"mark":{"type":"rect","stroke":"#000","strokeWidth":1},
        "encoding":{"x":{"field":"s","type":"quantitative","title":"C","scale":{"domain":[-2,22],"nice":false,"zero":false},"axis":{"orient":"top","title":"C","titleX":-42,"titleY":-8,"titleAlign":"left","titleBaseline":"alphabetic","titleFontSize":16,"titleFontWeight":"bold","labels":false,"ticks":false,"domain":false,"grid":false}},
         "x2":{"field":"e"},"y":{"datum":1,"type":"quantitative","scale":{"domain":[0,1],"nice":false},"axis":null},"y2":{"datum":0.955},
         "fill":{"field":"c","type":"nominal","scale":{"domain":["light","dark"],"range":["#ffffff","#1c1c1c"]},"legend":null}}},
      {"data":{"name":"C"},"layer":[
       {"mark":{"type":"bar","strokeWidth":0.8},
        "encoding":{
         "x":{"field":"t","type":"ordinal","title":"Time (h)","scale":{"paddingInner":0.36,"paddingOuter":0.18},"axis":{"title":"Time (h)","labelAngle":0,"tickBand":"extent","labelFontSize":12,"titleFontSize":11,"tickSize":4,"labelPadding":3,"titlePadding":2}},
         "xOffset":{"field":"p","type":"nominal","scale":{"paddingInner":0,"paddingOuter":0}},
         "y":{"field":"v","type":"quantitative","title":"Relative enrichment","scale":{"domain":[0,4],"nice":false,"clamp":true},"axis":{"title":"Relative enrichment","orient":"left","values":[0,0.5,1,1.5,2,2.5,3,3.5,4],"format":".1f","grid":true}},
         "fill":{"field":"p","type":"nominal","scale":{"domain":["CCA1 pair 1","CCA1 pair 2","CCA1 pair 3","CCA1 pair 4"],"range":["#1c1c1c","#5e5e5e","#a3a3a3","#ffffff"]},"legend":{"title":null,"orient":"none","legendX":287,"legendY":36,"symbolType":"square","symbolSize":45,"symbolStrokeWidth":0.7,"symbolStrokeColor":"#000","labelFontSize":8.5,"labelColor":"#000000","rowPadding":3,"labelOffset":2}},
         "stroke":{"field":"p","type":"nominal","scale":{"domain":["CCA1 pair 1","CCA1 pair 2","CCA1 pair 3","CCA1 pair 4"],"range":["#1c1c1c","#5e5e5e","#a3a3a3","#000000"]},"legend":null}}},
       {"mark":{"type":"errorbar","ticks":true,"size":6,"thickness":1,"color":"#000"},
        "encoding":{"x":{"field":"t","type":"ordinal","title":"Time (h)","scale":{"paddingInner":0.36,"paddingOuter":0.18},"axis":{"title":"Time (h)","labelAngle":0,"tickBand":"extent","labelFontSize":12,"titleFontSize":11,"tickSize":4,"labelPadding":3,"titlePadding":2}},"xOffset":{"field":"p","type":"nominal"},
         "y":{"field":"v","type":"quantitative","title":"Relative enrichment","axis":{"title":"Relative enrichment","orient":"left","values":[0,0.5,1,1.5,2,2.5,3,3.5,4],"format":".1f","grid":true}},"yError":{"field":"e"}}}
      ]}
     ]},
    {"width":287,"height":138,"title":{"text":"Col-0 H3K9/14Ac LD"},
     "resolve":{"scale":{"x":"independent","y":"independent","fill":"independent","stroke":"independent"}},
     "layer":[
      {"data":{"name":"bandLD"},"mark":{"type":"rect","stroke":"#000","strokeWidth":1},
        "encoding":{"x":{"field":"s","type":"quantitative","title":"G","scale":{"domain":[-2,22],"nice":false,"zero":false},"axis":{"orient":"top","title":"G","titleX":-40,"titleY":-9,"titleAlign":"left","titleBaseline":"alphabetic","titleFontSize":16,"titleFontWeight":"bold","labels":false,"ticks":false,"domain":false,"grid":false}},
         "x2":{"field":"e"},"y":{"datum":1,"type":"quantitative","scale":{"domain":[0,1],"nice":false},"axis":null},"y2":{"datum":0.955},
         "fill":{"field":"c","type":"nominal","scale":{"domain":["light","dark"],"range":["#ffffff","#1c1c1c"]},"legend":null}}},
      {"data":{"name":"G"},"layer":[
       {"mark":{"type":"bar","strokeWidth":0.8},
        "encoding":{
         "x":{"field":"t","type":"ordinal","title":"Time (h)","scale":{"paddingInner":0.36,"paddingOuter":0.18},"axis":{"title":"Time (h)","labelAngle":0,"tickBand":"extent","labelFontSize":12,"titleFontSize":11,"tickSize":4,"labelPadding":3,"titlePadding":2}},
         "xOffset":{"field":"p","type":"nominal","scale":{"paddingInner":0,"paddingOuter":0}},
         "y":{"field":"v","type":"quantitative","title":"Relative enrichment","scale":{"domain":[0,20],"nice":false,"clamp":true},"axis":{"title":"Relative enrichment","orient":"left","values":[0,2,4,6,8,10,12,14,16,18,20],"format":".1f","grid":true}},
         "fill":{"field":"p","type":"nominal","scale":{"domain":["CCA1 pair 1","CCA1 pair 2","CCA1 pair 3","CCA1 pair 4"],"range":["#1c1c1c","#5e5e5e","#a3a3a3","#ffffff"]},"legend":{"title":null,"orient":"none","legendX":287,"legendY":36,"symbolType":"square","symbolSize":45,"symbolStrokeWidth":0.7,"symbolStrokeColor":"#000","labelFontSize":8,"labelColor":"#000000","rowPadding":3,"labelOffset":2}},
         "stroke":{"field":"p","type":"nominal","scale":{"domain":["CCA1 pair 1","CCA1 pair 2","CCA1 pair 3","CCA1 pair 4"],"range":["#1c1c1c","#5e5e5e","#a3a3a3","#000000"]},"legend":null}}},
       {"mark":{"type":"errorbar","ticks":true,"size":6,"thickness":1,"color":"#000"},
        "encoding":{"x":{"field":"t","type":"ordinal","title":"Time (h)","scale":{"paddingInner":0.36,"paddingOuter":0.18},"axis":{"title":"Time (h)","labelAngle":0,"tickBand":"extent","labelFontSize":12,"titleFontSize":11,"tickSize":4,"labelPadding":3,"titlePadding":2}},"xOffset":{"field":"p","type":"nominal"},
         "y":{"field":"v","type":"quantitative","title":"Relative enrichment","axis":{"title":"Relative enrichment","orient":"left","values":[0,2,4,6,8,10,12,14,16,18,20],"format":".1f","grid":true}},"yError":{"field":"e"}}}
      ]}
     ]},
    {"width":285,"height":138,"title":{"text":"Col-0 H3K4Me3 DD"},
     "resolve":{"scale":{"x":"independent","y":"independent","fill":"independent","stroke":"independent"}},
     "layer":[
      {"data":{"name":"bandDD"},"mark":{"type":"rect","stroke":"#000","strokeWidth":1},
        "encoding":{"x":{"field":"s","type":"quantitative","title":"D","scale":{"domain":[-2,46],"nice":false,"zero":false},"axis":{"orient":"top","title":"D","titleX":-42,"titleY":-7,"titleAlign":"left","titleBaseline":"alphabetic","titleFontSize":16,"titleFontWeight":"bold","labels":false,"ticks":false,"domain":false,"grid":false}},
         "x2":{"field":"e"},"y":{"datum":1,"type":"quantitative","scale":{"domain":[0,1],"nice":false},"axis":null},"y2":{"datum":0.955},
         "fill":{"field":"c","type":"nominal","scale":{"domain":["subjective day","subjective night"],"range":["#808080","#1c1c1c"]},"legend":null}}},
      {"data":{"name":"D"},"layer":[
       {"mark":{"type":"bar","strokeWidth":0.8},
        "encoding":{
         "x":{"field":"t","type":"ordinal","title":"Time in DD (h)","scale":{"paddingInner":0.36,"paddingOuter":0.18},"axis":{"title":"Time in DD (h)","labelAngle":0,"tickBand":"extent","labelFontSize":9.5,"titleFontSize":11,"tickSize":4,"labelPadding":3,"titlePadding":3}},
         "xOffset":{"field":"p","type":"nominal","scale":{"paddingInner":0,"paddingOuter":0}},
         "y":{"field":"v","type":"quantitative","title":"Relative enrichment","scale":{"domain":[0,3],"nice":false,"clamp":true},"axis":{"title":"Relative enrichment","orient":"left","values":[0,0.5,1,1.5,2,2.5,3],"format":".1f","grid":true}},
         "fill":{"field":"p","type":"nominal","scale":{"domain":["CCA1 pair 1","CCA1 pair 2","CCA1 pair 3","CCA1 pair 4"],"range":["#1c1c1c","#5e5e5e","#a3a3a3","#ffffff"]},"legend":{"title":null,"orient":"none","legendX":287,"legendY":36,"symbolType":"square","symbolSize":45,"symbolStrokeWidth":0.7,"symbolStrokeColor":"#000","labelFontSize":8.5,"labelColor":"#000000","rowPadding":3,"labelOffset":2}},
         "stroke":{"field":"p","type":"nominal","scale":{"domain":["CCA1 pair 1","CCA1 pair 2","CCA1 pair 3","CCA1 pair 4"],"range":["#1c1c1c","#5e5e5e","#a3a3a3","#000000"]},"legend":null}}},
       {"mark":{"type":"errorbar","ticks":true,"size":4,"thickness":1,"color":"#000"},
        "encoding":{"x":{"field":"t","type":"ordinal","title":"Time in DD (h)","scale":{"paddingInner":0.36,"paddingOuter":0.18},"axis":{"title":"Time in DD (h)","labelAngle":0,"tickBand":"extent","labelFontSize":9.5,"titleFontSize":11,"tickSize":4,"labelPadding":3,"titlePadding":3}},"xOffset":{"field":"p","type":"nominal"},
         "y":{"field":"v","type":"quantitative","title":"Relative enrichment","axis":{"title":"Relative enrichment","orient":"left","values":[0,0.5,1,1.5,2,2.5,3],"format":".1f","grid":true}},"yError":{"field":"e"}}}
      ]}
     ]},
    {"width":287,"height":138,"title":{"text":"Col-0 H3K9/14Ac DD"},
     "resolve":{"scale":{"x":"independent","y":"independent","fill":"independent","stroke":"independent"}},
     "layer":[
      {"data":{"name":"bandDD"},"mark":{"type":"rect","stroke":"#000","strokeWidth":1},
        "encoding":{"x":{"field":"s","type":"quantitative","title":"H","scale":{"domain":[-2,46],"nice":false,"zero":false},"axis":{"orient":"top","title":"H","titleX":-38,"titleY":-9,"titleAlign":"left","titleBaseline":"alphabetic","titleFontSize":16,"titleFontWeight":"bold","labels":false,"ticks":false,"domain":false,"grid":false}},
         "x2":{"field":"e"},"y":{"datum":1,"type":"quantitative","scale":{"domain":[0,1],"nice":false},"axis":null},"y2":{"datum":0.955},
         "fill":{"field":"c","type":"nominal","scale":{"domain":["subjective day","subjective night"],"range":["#808080","#1c1c1c"]},"legend":null}}},
      {"data":{"name":"H"},"layer":[
       {"mark":{"type":"bar","strokeWidth":0.8},
        "encoding":{
         "x":{"field":"t","type":"ordinal","title":"Time in DD (h)","scale":{"paddingInner":0.36,"paddingOuter":0.18},"axis":{"title":"Time in DD (h)","labelAngle":0,"tickBand":"extent","labelFontSize":9.5,"titleFontSize":11,"tickSize":4,"labelPadding":3,"titlePadding":3}},
         "xOffset":{"field":"p","type":"nominal","scale":{"paddingInner":0,"paddingOuter":0}},
         "y":{"field":"v","type":"quantitative","title":"Relative enrichment","scale":{"domain":[0,7],"nice":false,"clamp":true},"axis":{"title":"Relative enrichment","orient":"left","values":[0,1,2,3,4,5,6,7],"format":".1f","grid":true}},
         "fill":{"field":"p","type":"nominal","scale":{"domain":["CCA1 pair 1","CCA1 pair 2","CCA1 pair 3","CCA1 pair 4"],"range":["#1c1c1c","#5e5e5e","#a3a3a3","#ffffff"]},"legend":{"title":null,"orient":"none","legendX":287,"legendY":36,"symbolType":"square","symbolSize":45,"symbolStrokeWidth":0.7,"symbolStrokeColor":"#000","labelFontSize":8,"labelColor":"#000000","rowPadding":3,"labelOffset":2}},
         "stroke":{"field":"p","type":"nominal","scale":{"domain":["CCA1 pair 1","CCA1 pair 2","CCA1 pair 3","CCA1 pair 4"],"range":["#1c1c1c","#5e5e5e","#a3a3a3","#000000"]},"legend":null}}},
       {"mark":{"type":"errorbar","ticks":true,"size":4,"thickness":1,"color":"#000"},
        "encoding":{"x":{"field":"t","type":"ordinal","title":"Time in DD (h)","scale":{"paddingInner":0.36,"paddingOuter":0.18},"axis":{"title":"Time in DD (h)","labelAngle":0,"tickBand":"extent","labelFontSize":9.5,"titleFontSize":11,"tickSize":4,"labelPadding":3,"titlePadding":3}},"xOffset":{"field":"p","type":"nominal"},
         "y":{"field":"v","type":"quantitative","title":"Relative enrichment","axis":{"title":"Relative enrichment","orient":"left","values":[0,1,2,3,4,5,6,7],"format":".1f","grid":true}},"yError":{"field":"e"}}}
      ]}
     ]},
    {"width":285,"height":138,"title":{"text":"Col-0 H3K4Me3 LL"},
     "resolve":{"scale":{"x":"independent","y":"independent","fill":"independent","stroke":"independent"}},
     "layer":[
      {"data":{"name":"bandLL"},"mark":{"type":"rect","stroke":"#000","strokeWidth":1},
        "encoding":{"x":{"field":"s","type":"quantitative","title":"E","scale":{"domain":[-2,46],"nice":false,"zero":false},"axis":{"orient":"top","title":"E","titleX":-43,"titleY":-10,"titleAlign":"left","titleBaseline":"alphabetic","titleFontSize":16,"titleFontWeight":"bold","labels":false,"ticks":false,"domain":false,"grid":false}},
         "x2":{"field":"e"},"y":{"datum":1,"type":"quantitative","scale":{"domain":[0,1],"nice":false},"axis":null},"y2":{"datum":0.955},
         "fill":{"field":"c","type":"nominal","scale":{"domain":["subjective day","subjective night"],"range":["#ffffff","#808080"]},"legend":null}}},
      {"data":{"name":"E"},"layer":[
       {"mark":{"type":"bar","strokeWidth":0.8},
        "encoding":{
         "x":{"field":"t","type":"ordinal","title":"Time in LL (h)","scale":{"paddingInner":0.36,"paddingOuter":0.18},"axis":{"title":"Time in LL (h)","labelAngle":0,"tickBand":"extent","labelFontSize":9.5,"titleFontSize":11,"tickSize":4,"labelPadding":3,"titlePadding":3}},
         "xOffset":{"field":"p","type":"nominal","scale":{"paddingInner":0,"paddingOuter":0}},
         "y":{"field":"v","type":"quantitative","title":"Relative enrichment","scale":{"domain":[0,4.5],"nice":false,"clamp":true},"axis":{"title":"Relative enrichment","orient":"left","values":[0,0.5,1,1.5,2,2.5,3,3.5,4,4.5],"format":".1f","grid":true}},
         "fill":{"field":"p","type":"nominal","scale":{"domain":["CCA1 pair 1","CCA1 pair 2","CCA1 pair 3","CCA1 pair 4"],"range":["#1c1c1c","#5e5e5e","#a3a3a3","#ffffff"]},"legend":{"title":null,"orient":"none","legendX":287,"legendY":36,"symbolType":"square","symbolSize":45,"symbolStrokeWidth":0.7,"symbolStrokeColor":"#000","labelFontSize":8.5,"labelColor":"#000000","rowPadding":3,"labelOffset":2}},
         "stroke":{"field":"p","type":"nominal","scale":{"domain":["CCA1 pair 1","CCA1 pair 2","CCA1 pair 3","CCA1 pair 4"],"range":["#1c1c1c","#5e5e5e","#a3a3a3","#000000"]},"legend":null}}},
       {"mark":{"type":"errorbar","ticks":true,"size":4,"thickness":1,"color":"#000"},
        "encoding":{"x":{"field":"t","type":"ordinal","title":"Time in LL (h)","scale":{"paddingInner":0.36,"paddingOuter":0.18},"axis":{"title":"Time in LL (h)","labelAngle":0,"tickBand":"extent","labelFontSize":9.5,"titleFontSize":11,"tickSize":4,"labelPadding":3,"titlePadding":3}},"xOffset":{"field":"p","type":"nominal"},
         "y":{"field":"v","type":"quantitative","title":"Relative enrichment","axis":{"title":"Relative enrichment","orient":"left","values":[0,0.5,1,1.5,2,2.5,3,3.5,4,4.5],"format":".1f","grid":true}},"yError":{"field":"e"}}}
      ]}
     ]},
    {"width":287,"height":138,"title":{"text":"Col-0 H3K9/14Ac LL"},
     "resolve":{"scale":{"x":"independent","y":"independent","fill":"independent","stroke":"independent"}},
     "layer":[
      {"data":{"name":"bandLL"},"mark":{"type":"rect","stroke":"#000","strokeWidth":1},
        "encoding":{"x":{"field":"s","type":"quantitative","title":"I","scale":{"domain":[-2,46],"nice":false,"zero":false},"axis":{"orient":"top","title":"I","titleX":-38,"titleY":-12,"titleAlign":"left","titleBaseline":"alphabetic","titleFontSize":16,"titleFontWeight":"bold","labels":false,"ticks":false,"domain":false,"grid":false}},
         "x2":{"field":"e"},"y":{"datum":1,"type":"quantitative","scale":{"domain":[0,1],"nice":false},"axis":null},"y2":{"datum":0.955},
         "fill":{"field":"c","type":"nominal","scale":{"domain":["subjective day","subjective night"],"range":["#ffffff","#808080"]},"legend":null}}},
      {"data":{"name":"I"},"layer":[
       {"mark":{"type":"bar","strokeWidth":0.8},
        "encoding":{
         "x":{"field":"t","type":"ordinal","title":"Time in LL (h)","scale":{"paddingInner":0.36,"paddingOuter":0.18},"axis":{"title":"Time in LL (h)","labelAngle":0,"tickBand":"extent","labelFontSize":9.5,"titleFontSize":11,"tickSize":4,"labelPadding":3,"titlePadding":3}},
         "xOffset":{"field":"p","type":"nominal","scale":{"paddingInner":0,"paddingOuter":0}},
         "y":{"field":"v","type":"quantitative","title":"Relative enrichment","scale":{"domain":[0,10],"nice":false,"clamp":true},"axis":{"title":"Relative enrichment","orient":"left","values":[0,1,2,3,4,5,6,7,8,9,10],"format":".1f","grid":true}},
         "fill":{"field":"p","type":"nominal","scale":{"domain":["CCA1 pair 1","CCA1 pair 2","CCA1 pair 3","CCA1 pair 4"],"range":["#1c1c1c","#5e5e5e","#a3a3a3","#ffffff"]},"legend":{"title":null,"orient":"none","legendX":287,"legendY":36,"symbolType":"square","symbolSize":45,"symbolStrokeWidth":0.7,"symbolStrokeColor":"#000","labelFontSize":8,"labelColor":"#000000","rowPadding":3,"labelOffset":2}},
         "stroke":{"field":"p","type":"nominal","scale":{"domain":["CCA1 pair 1","CCA1 pair 2","CCA1 pair 3","CCA1 pair 4"],"range":["#1c1c1c","#5e5e5e","#a3a3a3","#000000"]},"legend":null}}},
       {"mark":{"type":"errorbar","ticks":true,"size":4,"thickness":1,"color":"#000"},
        "encoding":{"x":{"field":"t","type":"ordinal","title":"Time in LL (h)","scale":{"paddingInner":0.36,"paddingOuter":0.18},"axis":{"title":"Time in LL (h)","labelAngle":0,"tickBand":"extent","labelFontSize":9.5,"titleFontSize":11,"tickSize":4,"labelPadding":3,"titlePadding":3}},"xOffset":{"field":"p","type":"nominal"},
         "y":{"field":"v","type":"quantitative","title":"Relative enrichment","axis":{"title":"Relative enrichment","orient":"left","values":[0,1,2,3,4,5,6,7,8,9,10],"format":".1f","grid":true}},"yError":{"field":"e"}}}
      ]}
     ]}
  ]
 }
],
"spacing":87,"bounds":"flush"
}
